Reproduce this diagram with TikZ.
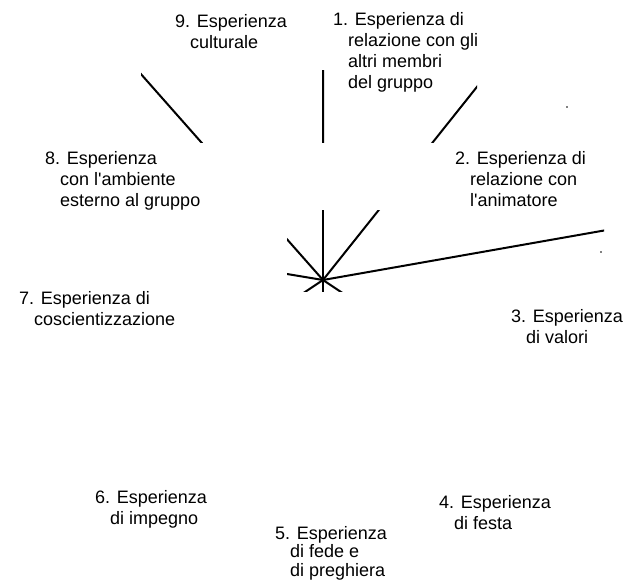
\documentclass[tikz,border=0pt]{standalone}
\usepackage{fontspec}
\setmainfont{Liberation Sans}
\usetikzlibrary{calc}

\newcommand{\ind}{\hspace*{15pt}}
\newcommand{\apo}{\textquotesingle}
\tikzset{
  lbl/.style={anchor=north west, inner sep=0pt, align=left, font=\fontsize{18}{21}\selectfont},
  ray/.style={line width=2pt},
}

\begin{document}
\begin{tikzpicture}[x=1pt,y=-1pt]
	    \useasboundingbox (0,0) rectangle (624,581);
	    \coordinate (C) at (323,280); % centre of the star
	    \coordinate (Rup) at (323,0);
	    \coordinate (Rul) at (79,4);
	    \coordinate (Rur) at (543,4);
	    \coordinate (Rri) at (658,221);
	    \coordinate (Rle) at (143,250);
	    \coordinate (Rdl) at (248,330);
	    \coordinate (Rdr) at (398,330);
	    \coordinate (Rdo) at (323,400);
	    \begin{scope} % upper band
	        \clip (141,70) rectangle (477,142);
	        \draw[ray] (C) -- (Rup) (C) -- (Rul) (C) -- (Rur);
	    \end{scope}
	    \begin{scope} % band round the centre
	        \clip (287,210) rectangle (604,291);
	        \foreach \r in {Rup,Rul,Rur,Rri,Rle,Rdl,Rdr,Rdo}
	            \draw[ray] (C) -- (\r);
	    \end{scope}
	    \fill (567,107) circle[radius=0.8]; % stray dots
	    \fill (601,252) circle[radius=0.8];
	    \node[lbl] (e9) at (175,14) {9. Esperienza\\\ind culturale};
	    \node[lbl] (e1) at (333,12) {1. Esperienza di\\\ind relazione con gli\\\ind altri membri\\\ind del gruppo};
	    \node[lbl] (e8) at (45,151) {8. Esperienza\\\ind con l\apo ambiente\\\ind esterno al gruppo};
	    \node[lbl] (e2) at (455,151) {2. Esperienza di\\\ind relazione con\\\ind l\apo animatore};
	    \node[lbl] (e7) at (19,291) {7. Esperienza di\\\ind coscientizzazione};
	    \node[lbl] (e3) at (511,309) {3. Esperienza\\\ind di valori};
	    \node[lbl] (e6) at (95,490) {6. Esperienza\\\ind di impegno};
	    \node[lbl] (e4) at (439,495) {4. Esperienza\\\ind di festa};
	    \node[lbl, font=\fontsize{18}{18.5}\selectfont] (e5) at (275,526) {5. Esperienza\\\ind di fede e\\\ind di preghiera};
\end{tikzpicture}
\end{document}
